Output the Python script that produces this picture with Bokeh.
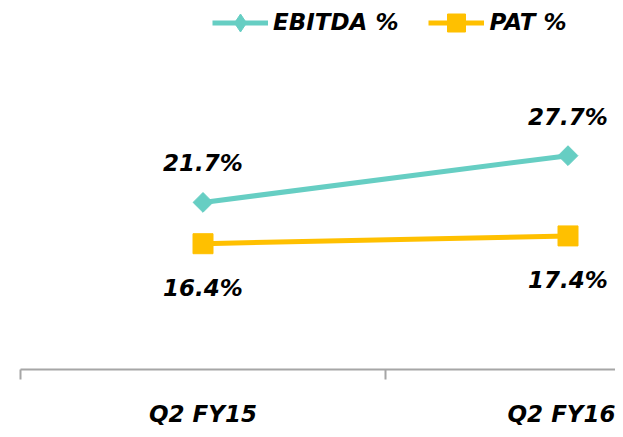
import numpy as np
from bokeh.plotting import figure
from bokeh.models import (Range1d, LinearAxis, FixedTicker, Legend, LegendItem,
                          ColumnDataSource)
from bokeh.core.properties import value
from bokeh.embed import file_html
from bokeh.resources import INLINE

# ---- data ----
categories = ["Q2 FY15", "Q2 FY16"]
ebitda_pct = [21.7, 27.7]
pat_pct = [16.4, 17.4]

TEAL = "#66CEC3"
GOLD = "#FFC000"
FONT = "DejaVu Sans"

W, H = 615, 429
LEFT = 20            # frame left inside figure
BOTTOM_AXIS = 371    # frame bottom (axis line) inside figure
ZERO_Y = 373         # pixel row of value 0
PX_PER_UNIT = 7.834
PX_PER_CAT = 365.0

xpos = [i + 0.5 for i in range(len(categories))]
frame_w = W - LEFT
frame_h = BOTTOM_AXIS

p = figure(width=W, height=H, output_backend="svg", toolbar_location=None,
           x_range=Range1d(0, frame_w / PX_PER_CAT),
           y_range=Range1d((ZERO_Y - BOTTOM_AXIS) / PX_PER_UNIT, ZERO_Y / PX_PER_UNIT),
           x_axis_type=None, y_axis_type=None,
           min_border_left=LEFT, min_border_right=0, min_border_top=0,
           min_border_bottom=H - BOTTOM_AXIS)
p.outline_line_color = None
p.xgrid.visible = False
p.ygrid.visible = False
p.background_fill_color = "white"
p.border_fill_color = "white"

src_e = ColumnDataSource(dict(x=xpos, y=ebitda_pct, lbl=[f"{v:.1f}%" for v in ebitda_pct]))
src_p = ColumnDataSource(dict(x=xpos, y=pat_pct, lbl=[f"{v:.1f}%" for v in pat_pct]))

le = p.line("x", "y", source=src_e, line_color=TEAL, line_width=5)
# diamond used for the legend swatch (hidden under the rotated square in the plot)
de = p.scatter("x", "y", source=src_e, marker="diamond", size=18,
               fill_color=TEAL, line_color=TEAL)
p.scatter("x", "y", source=src_e, marker="square", angle=np.pi / 4, size=14,
          fill_color=TEAL, line_color=TEAL)
lp = p.line("x", "y", source=src_p, line_color=GOLD, line_width=5)
sp = p.scatter("x", "y", source=src_p, marker="square", size=20,
               fill_color=GOLD, line_color=GOLD)

p.text("x", "y", text="lbl", source=src_e, text_align="center", text_baseline="middle",
       y_offset=-39, text_font_size="23px", text_font_style="bold italic",
       text_font=value(FONT), text_color="black")
p.text("x", "y", text="lbl", source=src_p, text_align="center", text_baseline="middle",
       y_offset=44, text_font_size="23px", text_font_style="bold italic",
       text_font=value(FONT), text_color="black")

# category axis with ticks on the category boundaries
ticker = FixedTicker(ticks=xpos, minor_ticks=list(range(len(categories) + 1)))
ax = LinearAxis(ticker=ticker,
                major_label_overrides={x: c for x, c in zip(xpos, categories)})
ax.axis_line_color = "#A6A6A6"
ax.axis_line_width = 2
ax.major_tick_line_color = None
ax.major_tick_out = 10
ax.major_tick_in = 0
ax.minor_tick_line_color = "#A6A6A6"
ax.minor_tick_line_width = 2
ax.minor_tick_out = 10
ax.minor_tick_in = 0
ax.major_label_standoff = 21
ax.major_label_text_font = FONT
ax.major_label_text_font_size = "23px"
ax.major_label_text_font_style = "bold italic"
ax.major_label_text_color = "black"
p.add_layout(ax, "below")

legend = Legend(items=[LegendItem(label="EBITDA %", renderers=[le, de]),
                       LegendItem(label="PAT %", renderers=[lp, sp])],
                orientation="horizontal", location=(192, frame_h - 46.5))
legend.glyph_width = 56
legend.glyph_height = 45
legend.label_standoff = 5
legend.spacing = 30
legend.padding = 0
legend.margin = 0
legend.border_line_color = None
legend.background_fill_alpha = 0
legend.label_text_font = FONT
legend.label_text_font_size = "23px"
legend.label_text_font_style = "bold italic"
legend.label_text_color = "black"
p.add_layout(legend, "center")

open("out.html", "w").write(file_html(p, INLINE))
